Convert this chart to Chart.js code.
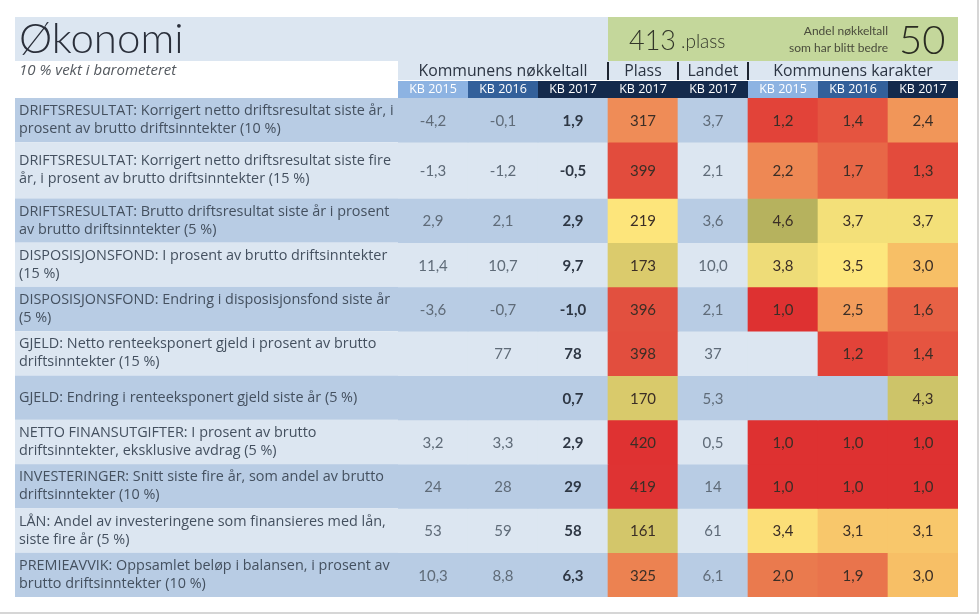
<!DOCTYPE html>
<html>
<head>
<meta charset="utf-8">
<script src="https://cdn.jsdelivr.net/npm/chart.js@4.4.1/dist/chart.umd.min.js"></script>
<style>
  html, body { margin: 0; padding: 0; background: #ffffff; }
  #wrap { position: relative; width: 980px; height: 615px; }
  canvas { display: block; }
</style>
</head>
<body>
<div id="wrap"><canvas id="c" width="980" height="615"></canvas></div>
<script>
// ---------------- DATA ----------------
const rowLabels = [
  ['DRIFTSRESULTAT: Korrigert netto driftsresultat siste år, i', 'prosent av brutto driftsinntekter (10 %)'],
  ['DRIFTSRESULTAT: Korrigert netto driftsresultat siste fire', 'år, i prosent av brutto driftsinntekter (15 %)'],
  ['DRIFTSRESULTAT: Brutto driftsresultat siste år i prosent', 'av brutto driftsinntekter (5 %)'],
  ['DISPOSISJONSFOND: I prosent av brutto driftsinntekter', '(15 %)'],
  ['DISPOSISJONSFOND: Endring i disposisjonsfond siste år', '(5 %)'],
  ['GJELD: Netto renteeksponert gjeld i prosent av brutto', 'driftsinntekter (15 %)'],
  ['GJELD: Endring i renteeksponert gjeld siste år (5 %)'],
  ['NETTO FINANSUTGIFTER: I prosent av brutto', 'driftsinntekter, eksklusive avdrag (5 %)'],
  ['INVESTERINGER: Snitt siste fire år, som andel av brutto', 'driftsinntekter (10 %)'],
  ['LÅN: Andel av investeringene som finansieres med lån,', 'siste fire år (5 %)'],
  ['PREMIEAVVIK: Oppsamlet beløp i balansen, i prosent av', 'brutto driftsinntekter (10 %)']
];
const rowDecimals   = [1, 1, 1, 1, 1, 0, 1, 1, 0, 0, 1];

const kb2015        = [-4.2, -1.3, 2.9, 11.4, -3.6, null, null, 3.2, 24, 53, 10.3];
const kb2016        = [-0.1, -1.2, 2.1, 10.7, -0.7, 77, null, 3.3, 28, 59, 8.8];
const kb2017        = [1.9, -0.5, 2.9, 9.7, -1.0, 78, 0.7, 2.9, 29, 58, 6.3];
const plass2017     = [317, 399, 219, 173, 396, 398, 170, 420, 419, 161, 325];
const landet2017    = [3.7, 2.1, 3.6, 10.0, 2.1, 37, 5.3, 0.5, 14, 61, 6.1];
const karakter2015  = [1.2, 2.2, 4.6, 3.8, 1.0, null, null, 1.0, 1.0, 3.4, 2.0];
const karakter2016  = [1.4, 1.7, 3.7, 3.5, 2.5, 1.2, null, 1.0, 1.0, 3.1, 1.9];
const karakter2017  = [2.4, 1.3, 3.7, 3.0, 1.6, 1.4, 4.3, 1.0, 1.0, 3.1, 3.0];

const columnTicks   = ['KB 2015', 'KB 2016', 'KB 2017', 'KB 2017', 'KB 2017', 'KB 2015', 'KB 2016', 'KB 2017'];
const groupHeaders  = ['Kommunens nøkkeltall', 'Plass', 'Landet', 'Kommunens karakter'];
const titleText     = 'Økonomi';
const subtitleText  = '10 % vekt i barometeret';
const totalPlass    = 413;
const andelBedre    = 50;
const andelText     = ['Andel nøkkeltall', 'som har blitt bedre'];

// ---------------- STRUCTURE / STYLE ----------------
const columnSeries = [kb2015, kb2016, kb2017, plass2017, landet2017, karakter2015, karakter2016, karakter2017];
const columnKind   = ['num', 'num', 'numBold', 'plass', 'num', 'grade', 'grade', 'grade'];
const groupSpans   = [[0, 2], [3, 3], [4, 4], [5, 7]];
const headerCellColors = ['#8db3e2', '#33609a', '#142a4c', '#142a4c', '#142a4c', '#8db3e2', '#33609a', '#142a4c'];

// relative row heights (layout only): second row is taller in the original
const rowWeights = rowLabels.map((_, i) => i === 1 ? 57 / 45 : 1);
const rowStart = [];
rowWeights.reduce((acc, w, i) => { rowStart[i] = acc; return acc + w; }, 0);
const rowTotal = rowWeights.reduce((a, b) => a + b, 0);
const rowCenters = rowStart.map((s, i) => s + rowWeights[i] / 2);

const STRIPE_DARK = '#b8cce4';
const STRIPE_LIGHT = '#dce6f1';
const stripe = r => (r % 2 === 0 ? STRIPE_DARK : STRIPE_LIGHT);

function hexToRgb(h) { return [1, 3, 5].map(i => parseInt(h.substr(i, 2), 16)); }
function interp(stops, v) {
  if (v <= stops[0][0]) return stops[0][1];
  for (let i = 1; i < stops.length; i++) {
    if (v <= stops[i][0]) {
      const [v0, c0] = stops[i - 1], [v1, c1] = stops[i];
      const t = (v - v0) / (v1 - v0);
      const a = hexToRgb(c0), b = hexToRgb(c1);
      return 'rgb(' + a.map((x, k) => Math.round(x + (b[k] - x) * t)).join(',') + ')';
    }
  }
  return stops[stops.length - 1][1];
}
const gradeStops = [[1, '#de3131'], [1.4, '#e55440'], [2, '#ea7a4e'], [2.5, '#f39d5c'], [3, '#f7bf66'], [3.5, '#fde77d'], [4, '#e4d574'], [4.6, '#b6b25e']];
const plassStops = [[161, '#d3c66a'], [175, '#dccc6c'], [219, '#fde57b'], [317, '#ef8c57'], [330, '#ea7b4e'], [396, '#e2503f'], [420, '#df3232']];

function cellColor(r, c) {
  const v = columnSeries[c][r];
  if (columnKind[c] === 'plass' && v != null) return interp(plassStops, v);
  if (columnKind[c] === 'grade' && v != null) return interp(gradeStops, v);
  return stripe(r);
}
function fmt(v, dec) { return v.toFixed(dec).replace('.', ','); }
function cellText(r, c) {
  const v = columnSeries[c][r];
  if (v == null) return null;
  const k = columnKind[c];
  if (k === 'plass') return String(v);
  if (k === 'grade') return fmt(v, 1);
  return fmt(v, rowDecimals[r]);
}

const FONT = '"Open Sans", Lato, sans-serif';
const NUMFONT = 'Lato, "Open Sans", sans-serif';

const tablePlugin = {
  id: 'tablePlugin',
  beforeDraw(chart) {
    const { ctx, chartArea } = chart;
    const x = chart.scales.x, y = chart.scales.y;
    const colW = x.getPixelForValue(1) - x.getPixelForValue(0);
    const colLeft = c => x.getPixelForValue(c) - colW / 2;
    const tableLeft = 15;
    ctx.save();
    ctx.fillStyle = '#ffffff';
    ctx.fillRect(0, 0, chart.width, chart.height);

    // title band + green band
    const bandTop = 17, bandBottom = 61;
    ctx.fillStyle = '#dce6f1';
    ctx.fillRect(tableLeft, bandTop, colLeft(3) - tableLeft, bandBottom - bandTop);
    ctx.fillStyle = '#c4d79b';
    ctx.fillRect(colLeft(3), bandTop, chartArea.right - colLeft(3), bandBottom - bandTop);

    // header row (group names)
    const hTop = 61, hBottom = 80;
    ctx.fillStyle = '#dce6f1';
    ctx.fillRect(chartArea.left, hTop, chartArea.right - chartArea.left, hBottom - hTop);

    // KB header cells (x axis band)
    columnTicks.forEach((_, c) => {
      ctx.fillStyle = headerCellColors[c];
      ctx.fillRect(colLeft(c), x.top, colW, x.bottom - x.top);
    });

    // label column stripes
    rowLabels.forEach((_, r) => {
      const t = y.getPixelForValue(rowStart[r]);
      const b = y.getPixelForValue(rowStart[r] + rowWeights[r]);
      ctx.fillStyle = stripe(r);
      ctx.fillRect(tableLeft, t, chartArea.left - tableLeft, b - t);
    });

    // frame lines (right and bottom)
    ctx.strokeStyle = '#c9c9c9';
    ctx.lineWidth = 1.5;
    ctx.beginPath();
    ctx.moveTo(978, 0); ctx.lineTo(978, 613); ctx.lineTo(0, 613);
    ctx.stroke();
    ctx.restore();
  },
  afterDatasetsDraw(chart) {
    const { ctx } = chart;
    const x = chart.scales.x;
    const colW = x.getPixelForValue(1) - x.getPixelForValue(0);
    const colLeft = c => x.getPixelForValue(c) - colW / 2;
    const colRight = c => x.getPixelForValue(c) + colW / 2;
    ctx.save();
    ctx.textBaseline = 'middle';
    ctx.textAlign = 'center';

    // cell values
    chart.data.datasets.forEach((ds, r) => {
      const meta = chart.getDatasetMeta(r);
      meta.data.forEach((bar, c) => {
        const txt = cellText(r, c);
        if (txt == null) return;
        const p = bar.getProps(['x', 'y', 'base'], true);
        const k = columnKind[c];
        if (k === 'numBold') { ctx.font = 'bold 15px ' + NUMFONT; ctx.fillStyle = '#2e3744'; }
        else if (k === 'num') { ctx.font = '15px ' + NUMFONT; ctx.fillStyle = '#5f6b78'; }
        else { ctx.font = '15px ' + NUMFONT; ctx.fillStyle = '#3b2e26'; }
        ctx.fillText(txt, p.x, (p.y + p.base) / 2 + 1);
      });
    });

    // group headers
    ctx.font = '15.8px ' + FONT;
    ctx.fillStyle = '#2b3442';
    groupHeaders.forEach((g, i) => {
      const [a, b] = groupSpans[i];
      ctx.fillText(g, (colLeft(a) + colRight(b)) / 2, 71);
    });
    // separators between groups
    ctx.strokeStyle = '#1d2430';
    ctx.lineWidth = 2;
    [3, 4, 5].forEach(c => {
      const px = Math.round(colLeft(c));
      ctx.beginPath(); ctx.moveTo(px, 62); ctx.lineTo(px, 80); ctx.stroke();
    });

    // title
    ctx.textAlign = 'left';
    ctx.textBaseline = 'alphabetic';
    ctx.fillStyle = '#2a2f3a';
    ctx.font = '300 42px ' + NUMFONT;
    ctx.fillText(titleText, 19, 53);
    // subtitle
    ctx.font = 'italic 15px ' + FONT;
    ctx.fillStyle = '#555a60';
    ctx.textBaseline = 'middle';
    ctx.fillText(subtitleText, 19, 71);

    // green band
    ctx.textBaseline = 'alphabetic';
    ctx.fillStyle = '#33362a';
    ctx.font = '300 27px ' + NUMFONT;
    const plassX = 629;
    ctx.fillText(String(totalPlass), plassX, 50);
    const w413 = ctx.measureText(String(totalPlass)).width;
    ctx.font = '300 19px ' + NUMFONT;
    ctx.fillText('.plass', plassX + w413 + 5, 48);
    ctx.font = '12px ' + NUMFONT;
    ctx.textAlign = 'right';
    ctx.fillStyle = '#4a4c3c';
    ctx.fillText(andelText[0], 888, 35);
    ctx.fillText(andelText[1], 888, 52);
    ctx.textAlign = 'left';
    ctx.fillStyle = '#2a2c22';
    ctx.font = '300 40px ' + NUMFONT;
    ctx.fillText(String(andelBedre), 899, 54);
    ctx.restore();
  }
};

new Chart(document.getElementById('c'), {
  type: 'bar',
  data: {
    labels: columnTicks,
    datasets: rowLabels.map((lab, r) => ({
      label: lab.join(' '),
      data: columnTicks.map(() => [rowStart[r], rowStart[r] + rowWeights[r]]),
      backgroundColor: columnTicks.map((_, c) => cellColor(r, c)),
      grouped: false,
      categoryPercentage: 1,
      barPercentage: 1,
      borderWidth: 0,
      borderSkipped: false
    }))
  },
  options: {
    responsive: false,
    animation: false,
    devicePixelRatio: 1,
    events: [],
    layout: { padding: { top: 81, left: 19, right: 22, bottom: 10 } },
    plugins: { legend: { display: false }, tooltip: { enabled: false }, title: { display: false } },
    scales: {
      x: {
        type: 'category',
        position: 'top',
        offset: true,
        grid: { display: false, drawTicks: false },
        border: { display: false },
        ticks: { color: '#ffffff', font: { family: FONT, size: 12.5 }, padding: 1.5, maxRotation: 0, autoSkip: false },
        afterFit: s => { s.height = 17; }
      },
      y: {
        type: 'linear',
        reverse: true,
        min: 0,
        max: rowTotal,
        grid: { display: false, drawTicks: false },
        border: { display: false },
        afterFit: s => { s.width = 379; },
        afterBuildTicks: s => { s.ticks = rowCenters.map(v => ({ value: v })); },
        ticks: {
          autoSkip: false,
          crossAlign: 'far',
          padding: 0,
          color: '#44505f',
          font: { family: FONT, size: 14.4, lineHeight: 1.25 },
          callback: (v) => rowLabels[rowCenters.indexOf(v)]
        }
      }
    }
  },
  plugins: [tablePlugin]
});
</script>
</body>
</html>
